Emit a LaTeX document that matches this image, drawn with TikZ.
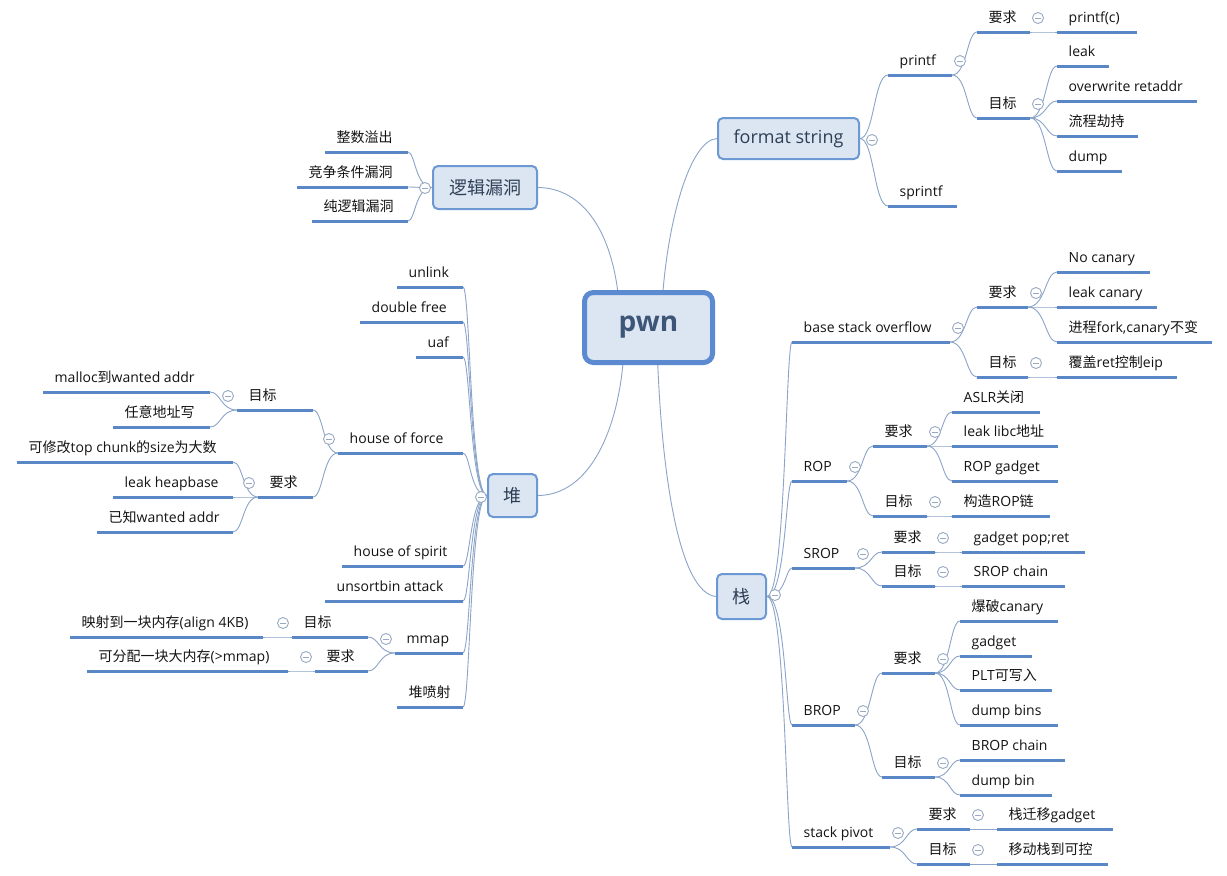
\documentclass[tikz,border=0pt]{standalone}
\usepackage{fontspec}
\setmainfont{Open Sans}
\newfontfamily\cjkfont{Noto Sans CJK SC}
\usetikzlibrary{calc}
\newcommand\zh[1]{{\cjkfont #1}}
\definecolor{ulc}{HTML}{5A87C6}
\definecolor{cnc}{HTML}{8BA4C9}
\definecolor{txc}{HTML}{141414}
\definecolor{boxb}{HTML}{6C98D4}
\definecolor{boxf}{HTML}{DCE6F3}
\definecolor{boxt}{HTML}{2E3E55}
\definecolor{pwnb}{HTML}{5B8AD0}
\definecolor{pwnt}{HTML}{3D5677}
\definecolor{mc}{HTML}{98A9C2}
\pgfdeclarelayer{back}
\pgfdeclarelayer{bg}
\pgfsetlayers{back,bg,main}
% topic: name, x1, x2, y, text
\newcommand\tp[5]{%
  \draw[ul] (#2,#4) coordinate (#1-l) -- (#3,#4) coordinate (#1-r);
  \node[txt] (#1) at ({#2+11.5},{#4-9.5}) {#5};}
\newcommand\cn[3][0.6]{\begin{pgfonlayer}{bg}\draw[cnl] let \p1=(#2), \p2=(#3) in (\p1) .. controls ({\x1+#1*(\x2-\x1)},\y1) and ({\x1+#1*(\x2-\x1)},\y2) .. (\p2);\end{pgfonlayer}}
\newcommand\mr[1]{\node[mn] (#1-m) at ($(#1-r)+(8,-14)$) {};}
\newcommand\ml[1]{\node[mn] (#1-m) at ($(#1-l)+(-9,-14)$) {};}
\begin{document}
\begin{tikzpicture}[x=1pt,y=-1pt,
  ul/.style={line width=3pt, draw=ulc},
  cnl/.style={line width=0.9pt, draw=cnc},
  txt/.style={anchor=base west, inner sep=0pt, text=txc, font=\fontsize{14}{16}\selectfont},
  mbox/.style={draw=boxb, fill=boxf, rounded corners=5pt, line width=2pt, text=boxt, inner sep=0pt, font=\fontsize{18}{20}\selectfont},
  pwnbox/.style={draw=pwnb, fill=boxf, rounded corners=9pt, line width=5pt, text=pwnt, inner sep=0pt, minimum width=128pt, minimum height=70pt, font=\fontsize{28}{30}\selectfont\bfseries},
  mn/.style={circle, draw=mc, fill=white, line width=0.9pt, minimum size=11pt, inner sep=0pt,
    path picture={\draw[mc, line width=0.9pt] ([xshift=-3pt]path picture bounding box.center) -- ([xshift=3pt]path picture bounding box.center);}}
]
\begin{pgfonlayer}{back}
\fill[white] (0,0) rectangle (1227,876);
\end{pgfonlayer}
\useasboundingbox (0,0) rectangle (1227,876);

% main boxes
\node[pwnbox] (pwn) at (648.5,327.5) {pwn};
\node[mbox, minimum width=141pt, minimum height=41pt] (fs) at (788.5,138.5) {format string};
\node[mbox, minimum width=104pt, minimum height=43pt] (log) at (485,187.5) {\zh{逻辑漏洞}};
\node[mbox, minimum width=49pt, minimum height=43pt] (heap) at (512.5,495.5) {\zh{堆}};
\node[mbox, minimum width=49pt, minimum height=45pt] (stk) at (741.5,596.5) {\zh{栈}};

\begin{pgfonlayer}{bg}
\draw[cnl] (log.east) .. controls (585,188) and (612,235) .. ($(pwn.center)+(-30,-30)$);
\draw[cnl] ($(pwn.center)+(14,-30)$) .. controls (668,220) and (690,140) .. (fs.west);
\draw[cnl] ($(pwn.center)+(-25,30)$) .. controls (618,430) and (590,495) .. (heap.east);
\draw[cnl] ($(pwn.center)+(9,30)$) .. controls (662,480) and (680,593) .. (stk.west);
\end{pgfonlayer}

% format string
\tp{printf}{888}{952}{75}{printf}
\tp{sprintf}{888}{957}{206}{sprintf}
\tp{fsq}{977}{1030}{32}{\zh{要求}}
\tp{fsg}{977}{1030}{118}{\zh{目标}}
\tp{pc}{1057}{1137}{32}{printf(c)}
\tp{leak}{1057}{1109}{66}{leak}
\tp{ow}{1057}{1197}{101}{overwrite retaddr}
\tp{lc}{1057}{1138}{136}{\zh{流程劫持}}
\tp{dump}{1057}{1122}{171}{dump}
\cn[0.5]{fs.east}{printf-l}
\cn[0.5]{fs.east}{sprintf-l}
\cn{printf-r}{fsq-l}
\cn{printf-r}{fsg-l}
\cn{fsq-r}{pc-l}
\cn{fsg-r}{leak-l}
\cn{fsg-r}{ow-l}
\cn{fsg-r}{lc-l}
\cn{fsg-r}{dump-l}

% stack
\tp{bso}{792}{950}{342}{base stack overflow}
\tp{rop}{792}{847}{481}{ROP}
\tp{srop}{792}{855}{568}{SROP}
\tp{brop}{792}{855}{725}{BROP}
\tp{sp}{792}{890}{847}{stack pivot}
\tp{bsoq}{977}{1028}{307}{\zh{要求}}
\tp{bsog}{977}{1028}{377}{\zh{目标}}
\tp{nc}{1057}{1150}{272}{No canary}
\tp{lcn}{1057}{1157}{307}{leak canary}
\tp{fork}{1057}{1212}{342}{\zh{进程}fork,canary\zh{不变}}
\tp{ret}{1057}{1177}{377}{\zh{覆盖}ret\zh{控制}eip}
\tp{ropq}{873}{927}{446}{\zh{要求}}
\tp{ropg}{873}{927}{516}{\zh{目标}}
\tp{aslr}{952}{1040}{412}{ASLR\zh{关闭}}
\tp{llibc}{952}{1058}{446}{leak libc\zh{地址}}
\tp{ropgad}{952}{1058}{481}{ROP gadget}
\tp{ropc}{952}{1050}{516}{\zh{构造}ROP\zh{链}}
\tp{sropq}{882}{935}{552}{\zh{要求}}
\tp{sropg}{882}{935}{586}{\zh{目标}}
\tp{gpr}{962}{1085}{552}{gadget pop;ret}
\tp{sc}{962}{1065}{586}{SROP chain}
\tp{bropq}{882}{935}{673}{\zh{要求}}
\tp{bropg}{882}{935}{777}{\zh{目标}}
\tp{bc}{960}{1058}{621}{\zh{爆破}canary}
\tp{gad}{960}{1032}{656}{gadget}
\tp{plt}{960}{1052}{690}{PLT\zh{可写入}}
\tp{dbs}{960}{1058}{725}{dump bins}
\tp{bch}{960}{1065}{760}{BROP chain}
\tp{db}{960}{1052}{795}{dump bin}
\tp{spq}{917}{970}{829}{\zh{要求}}
\tp{spg}{917}{970}{864}{\zh{目标}}
\tp{sqg}{997}{1113}{829}{\zh{栈迁移}gadget}
\tp{mv}{997}{1108}{864}{\zh{移动栈到可控}}
\cn[0.75]{stk.east}{bso-l}
\cn[0.75]{stk.east}{rop-l}
\cn[0.75]{stk.east}{srop-l}
\cn[0.75]{stk.east}{brop-l}
\cn[0.75]{stk.east}{sp-l}
\cn{bso-r}{bsoq-l}
\cn{bso-r}{bsog-l}
\cn{bsoq-r}{nc-l}
\cn{bsoq-r}{lcn-l}
\cn{bsoq-r}{fork-l}
\cn{bsog-r}{ret-l}
\cn{rop-r}{ropq-l}
\cn{rop-r}{ropg-l}
\cn{ropq-r}{aslr-l}
\cn{ropq-r}{llibc-l}
\cn{ropq-r}{ropgad-l}
\cn{ropg-r}{ropc-l}
\cn{srop-r}{sropq-l}
\cn{srop-r}{sropg-l}
\cn{sropq-r}{gpr-l}
\cn{sropg-r}{sc-l}
\cn{brop-r}{bropq-l}
\cn{brop-r}{bropg-l}
\cn{bropq-r}{bc-l}
\cn{bropq-r}{gad-l}
\cn{bropq-r}{plt-l}
\cn{bropq-r}{dbs-l}
\cn{bropg-r}{bch-l}
\cn{bropg-r}{db-l}
\cn{sp-r}{spq-l}
\cn{sp-r}{spg-l}
\cn{spq-r}{sqg-l}
\cn{spg-r}{mv-l}

% logic bugs
\tp{zs}{325}{408}{152}{\zh{整数溢出}}
\tp{jz}{297}{408}{187}{\zh{竞争条件漏洞}}
\tp{cl}{312}{408}{221}{\zh{纯逻辑漏洞}}
\cn[0.7]{log.west}{zs-r}
\cn[0.7]{log.west}{jz-r}
\cn[0.7]{log.west}{cl-r}

% heap
\tp{unlink}{397}{463}{287}{unlink}
\tp{df}{360}{463}{322}{double free}
\tp{uaf}{416}{463}{357}{uaf}
\tp{hof}{338}{463}{453}{house of force}
\tp{hos}{342}{463}{566}{house of spirit}
\tp{usb}{325}{463}{601}{unsortbin attack}
\tp{mmap}{395}{463}{653}{mmap}
\tp{hs}{397}{463}{707}{\zh{堆喷射}}
\tp{hofg}{237}{313}{410}{\zh{目标}}
\tp{hofq}{258}{313}{497}{\zh{要求}}
\tp{mw}{43}{210}{392}{malloc\zh{到}wanted addr}
\tp{ry}{113}{210}{427}{\zh{任意地址写}}
\tp{kx}{17}{233}{462}{\zh{可修改}top chunk\zh{的}size\zh{为大数}}
\tp{lh}{113}{233}{497}{leak heapbase}
\tp{yz}{97}{233}{532}{\zh{已知}wanted addr}
\tp{mmg}{292}{368}{637}{\zh{目标}}
\tp{mmq}{315}{368}{671}{\zh{要求}}
\tp{ys}{70}{263}{637}{\zh{映射到一块内存}(align 4KB)}
\tp{kf}{87}{288}{671}{\zh{可分配一块大内存}(>mmap)}
\cn[0.7]{heap.west}{unlink-r}
\cn[0.7]{heap.west}{df-r}
\cn[0.7]{heap.west}{uaf-r}
\cn[0.7]{heap.west}{hof-r}
\cn[0.7]{heap.west}{hos-r}
\cn[0.7]{heap.west}{usb-r}
\cn[0.7]{heap.west}{mmap-r}
\cn[0.7]{heap.west}{hs-r}
\cn{hof-l}{hofg-r}
\cn{hof-l}{hofq-r}
\cn{hofg-l}{mw-r}
\cn{hofg-l}{ry-r}
\cn{hofq-l}{kx-r}
\cn{hofq-l}{lh-r}
\cn{hofq-l}{yz-r}
\cn{mmap-l}{mmg-r}
\cn{mmap-l}{mmq-r}
\cn{mmg-l}{ys-r}
\cn{mmq-l}{kf-r}

% collapse markers
\node[mn] (fs-m) at (872,140) {};
\node[mn] (log-m) at (425,188) {};
\node[mn] (heap-m) at (481,497) {};
\node[mn] (stk-m) at (775,595) {};
\mr{printf}\mr{fsq}\mr{fsg}
\mr{bso}\mr{bsoq}\mr{bsog}
\mr{rop}\mr{ropq}\mr{ropg}
\mr{srop}\mr{sropq}\mr{sropg}
\mr{brop}\mr{bropq}\mr{bropg}
\mr{sp}\mr{spq}\mr{spg}
\ml{hof}\ml{hofg}\ml{hofq}
\ml{mmap}\ml{mmg}\ml{mmq}
\end{tikzpicture}
\end{document}
